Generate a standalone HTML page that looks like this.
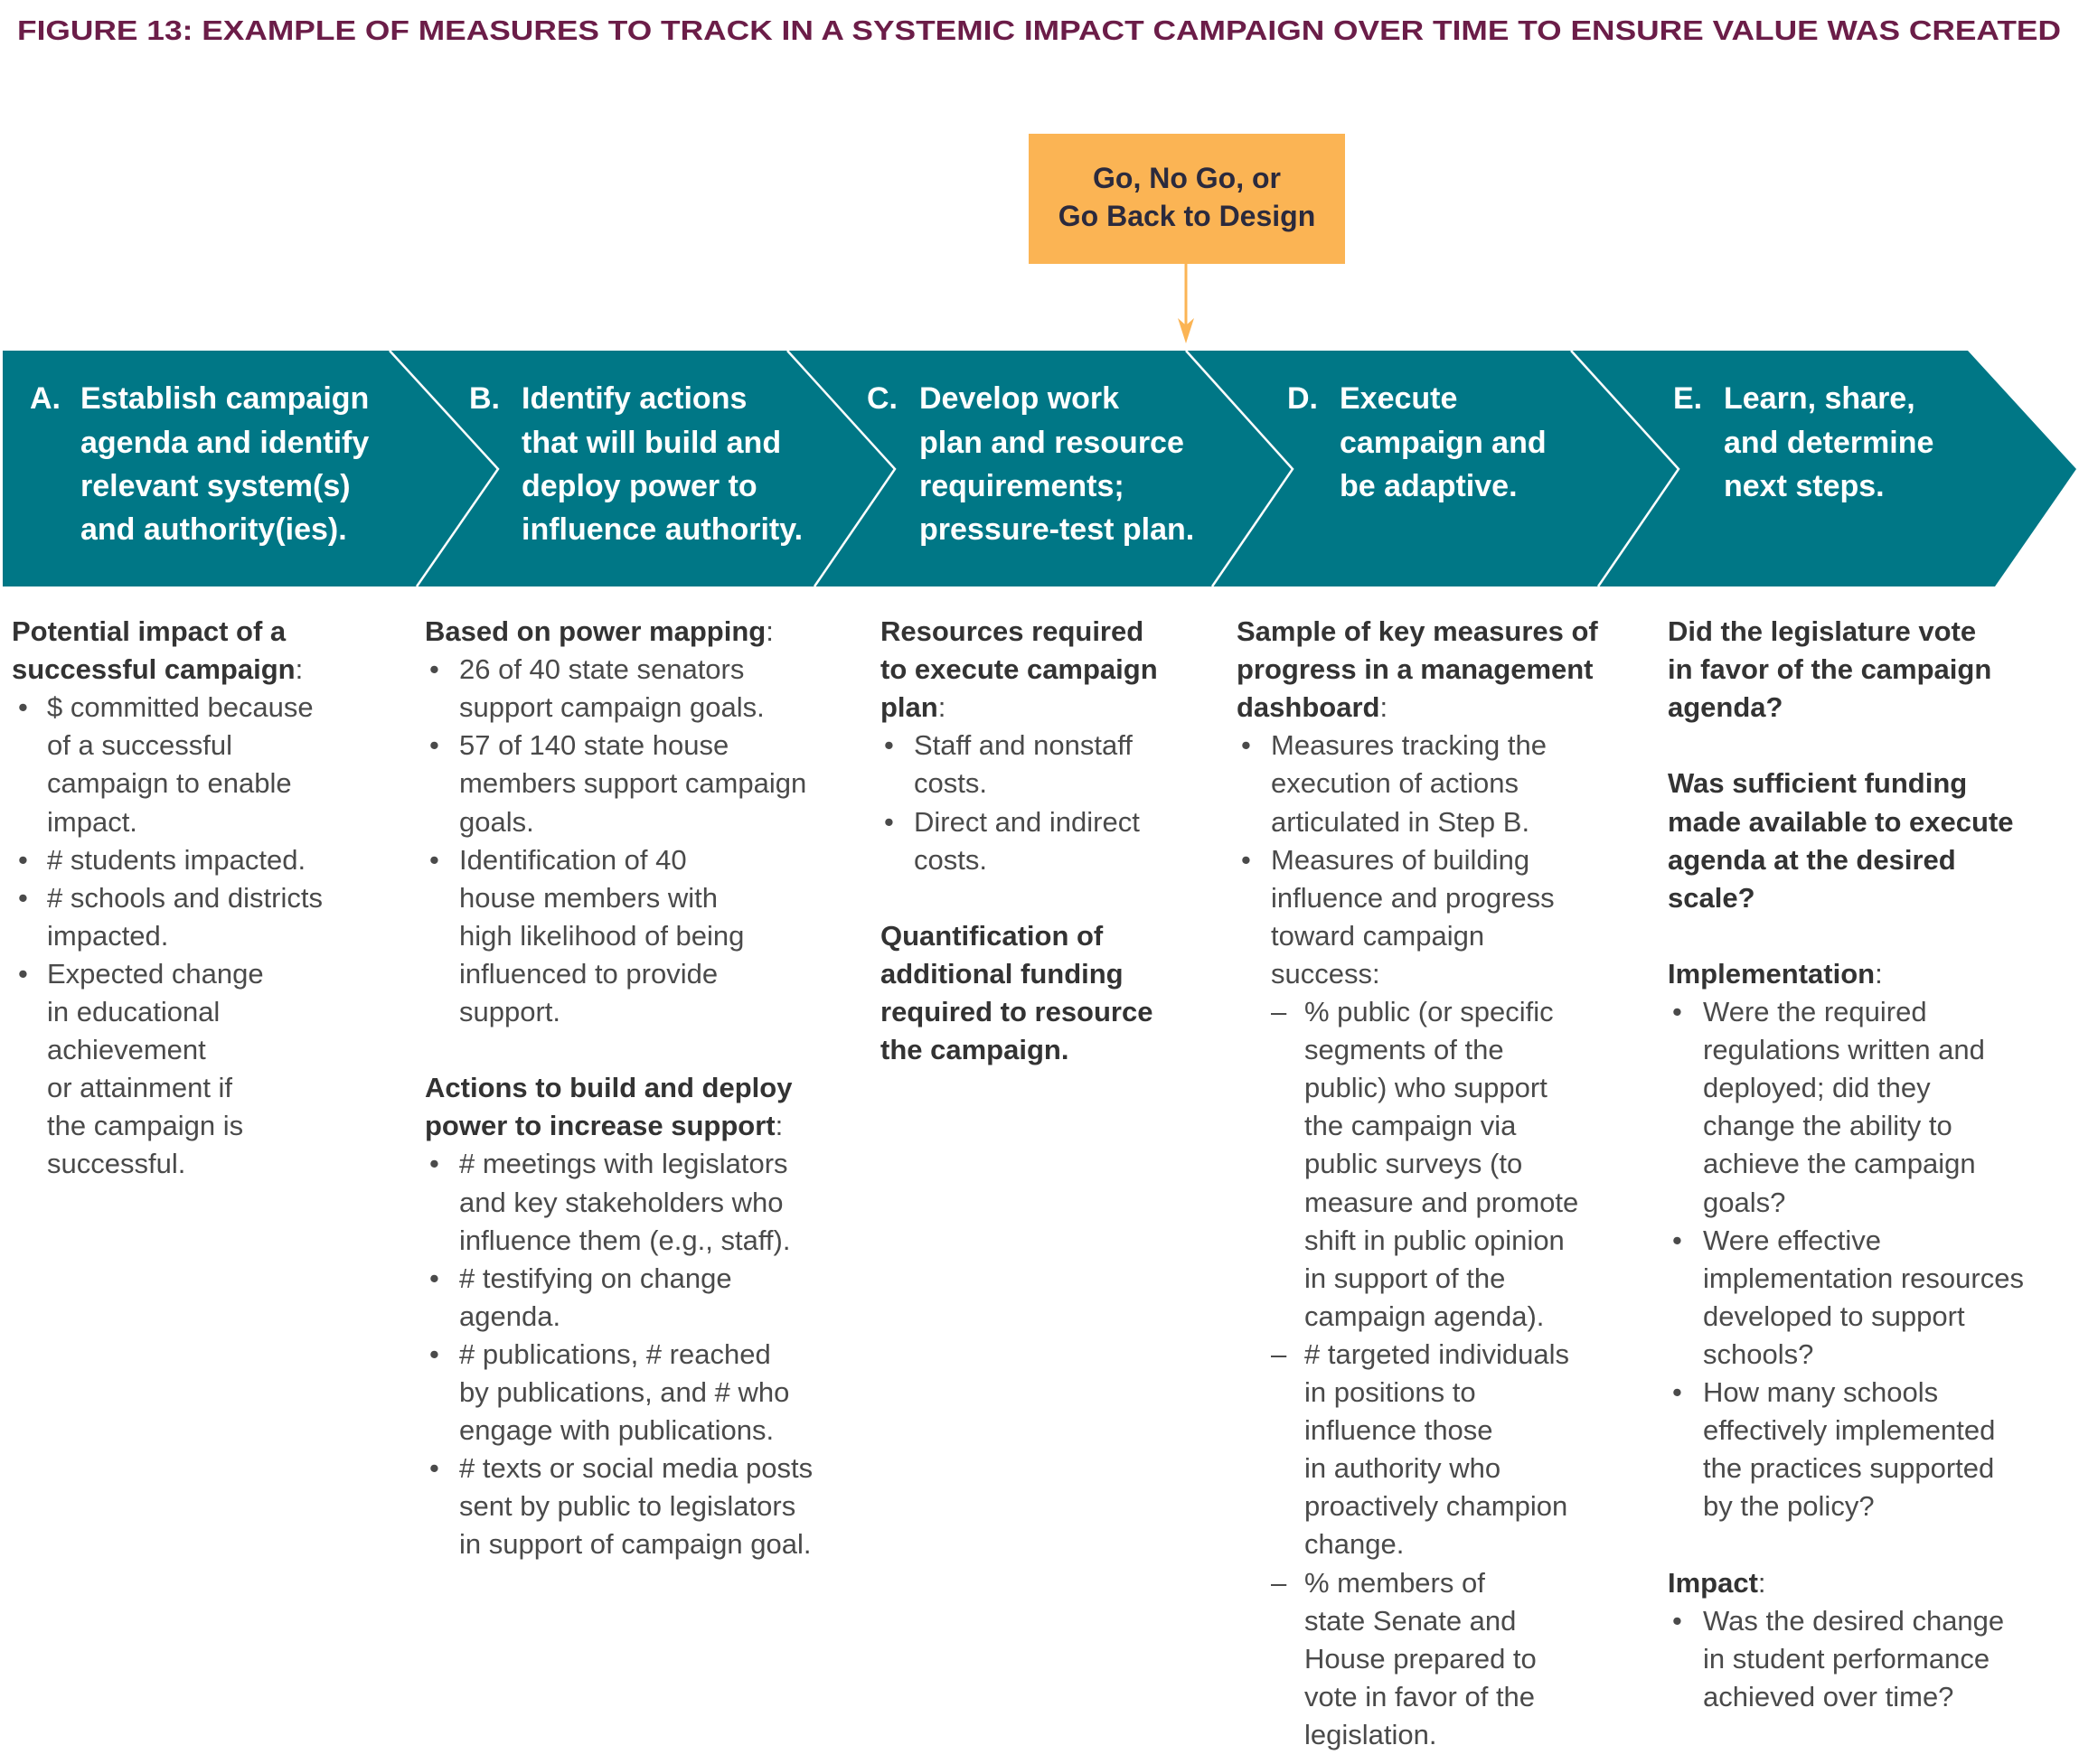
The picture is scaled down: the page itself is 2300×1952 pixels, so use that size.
<!DOCTYPE html>
<html><head><meta charset="utf-8"><style>
html,body{margin:0;padding:0;background:#fff}
svg{display:block}
.t{font-family:"Liberation Sans",sans-serif;font-size:31px;fill:#4a4a4a}
.b{font-weight:bold;fill:#333}
.h{font-family:"Liberation Sans",sans-serif;font-size:34px;font-weight:bold;fill:#fff}
</style></head><body>
<svg width="2300" height="1952" viewBox="0 0 2300 1952" xmlns="http://www.w3.org/2000/svg">
<text x="19" y="44" textLength="2261" lengthAdjust="spacingAndGlyphs" style="font-family:'Liberation Sans',sans-serif;font-size:31px;font-weight:bold;fill:#6b1d48">FIGURE 13: EXAMPLE OF MEASURES TO TRACK IN A SYSTEMIC IMPACT CAMPAIGN OVER TIME TO ENSURE VALUE WAS CREATED</text>
<rect x="1138" y="148" width="350" height="144" fill="#fbb454"/>
<text x="1313" y="208" text-anchor="middle" style="font-family:'Liberation Sans',sans-serif;font-size:32px;font-weight:bold;fill:#2b2a3d">Go, No Go, or</text>
<text x="1313" y="250" text-anchor="middle" style="font-family:'Liberation Sans',sans-serif;font-size:32px;font-weight:bold;fill:#2b2a3d">Go Back to Design</text>
<line x1="1312" y1="292" x2="1312" y2="372" stroke="#fbb454" stroke-width="3"/>
<polygon points="1303,352 1312,380 1321,352 1312,360" fill="#fbb454"/>
<polygon points="3,388 2177,388 2297,519 2207,649 3,649" fill="#007786"/>
<g stroke="#fff" stroke-width="2.5" fill="none">
<polyline points="431,388 551,519 461,649"/>
<polyline points="871,388 990,519 901,649"/>
<polyline points="1312,388 1430,519 1341,649"/>
<polyline points="1738,388 1857,519 1768,649"/>
</g>
<g class="h">
<text x="33" y="452">A.</text><text x="89" y="452">Establish campaign</text><text x="89" y="501">agenda and identify</text><text x="89" y="549">relevant system(s)</text><text x="89" y="597">and authority(ies).</text>
<text x="519" y="452">B.</text><text x="577" y="452">Identify actions</text><text x="577" y="501">that will build and</text><text x="577" y="549">deploy power to</text><text x="577" y="597">influence authority.</text>
<text x="959" y="452">C.</text><text x="1017" y="452">Develop work</text><text x="1017" y="501">plan and resource</text><text x="1017" y="549">requirements;</text><text x="1017" y="597">pressure-test plan.</text>
<text x="1424" y="452">D.</text><text x="1482" y="452">Execute</text><text x="1482" y="501">campaign and</text><text x="1482" y="549">be adaptive.</text>
<text x="1851" y="452">E.</text><text x="1907" y="452">Learn, share,</text><text x="1907" y="501">and determine</text><text x="1907" y="549">next steps.</text>
</g>
<g class="t">
<text class="b" x="13" y="709">Potential impact of a</text>
<text x="13" y="751"><tspan class="b">successful campaign</tspan>:</text>
<text x="20" y="793">•</text><text x="52" y="793">$ committed because</text>
<text x="52" y="835">of a successful</text>
<text x="52" y="877">campaign to enable</text>
<text x="52" y="920">impact.</text>
<text x="20" y="962">•</text><text x="52" y="962"># students impacted.</text>
<text x="20" y="1004">•</text><text x="52" y="1004"># schools and districts</text>
<text x="52" y="1046">impacted.</text>
<text x="20" y="1088">•</text><text x="52" y="1088">Expected change</text>
<text x="52" y="1130">in educational</text>
<text x="52" y="1172">achievement</text>
<text x="52" y="1214">or attainment if</text>
<text x="52" y="1256">the campaign is</text>
<text x="52" y="1298">successful.</text>

<text x="470" y="709"><tspan class="b">Based on power mapping</tspan>:</text>
<text x="475" y="751">•</text><text x="508" y="751">26 of 40 state senators</text>
<text x="508" y="793">support campaign goals.</text>
<text x="475" y="835">•</text><text x="508" y="835">57 of 140 state house</text>
<text x="508" y="877">members support campaign</text>
<text x="508" y="920">goals.</text>
<text x="475" y="962">•</text><text x="508" y="962">Identification of 40</text>
<text x="508" y="1004">house members with</text>
<text x="508" y="1046">high likelihood of being</text>
<text x="508" y="1088">influenced to provide</text>
<text x="508" y="1130">support.</text>
<text class="b" x="470" y="1214">Actions to build and deploy</text>
<text x="470" y="1256"><tspan class="b">power to increase support</tspan>:</text>
<text x="475" y="1298">•</text><text x="508" y="1298"># meetings with legislators</text>
<text x="508" y="1341">and key stakeholders who</text>
<text x="508" y="1383">influence them (e.g., staff).</text>
<text x="475" y="1425">•</text><text x="508" y="1425"># testifying on change</text>
<text x="508" y="1467">agenda.</text>
<text x="475" y="1509">•</text><text x="508" y="1509"># publications, # reached</text>
<text x="508" y="1551">by publications, and # who</text>
<text x="508" y="1593">engage with publications.</text>
<text x="475" y="1635">•</text><text x="508" y="1635"># texts or social media posts</text>
<text x="508" y="1677">sent by public to legislators</text>
<text x="508" y="1719">in support of campaign goal.</text>

<text class="b" x="974" y="709">Resources required</text>
<text class="b" x="974" y="751">to execute campaign</text>
<text x="974" y="793"><tspan class="b">plan</tspan>:</text>
<text x="978" y="835">•</text><text x="1011" y="835">Staff and nonstaff</text>
<text x="1011" y="877">costs.</text>
<text x="978" y="920">•</text><text x="1011" y="920">Direct and indirect</text>
<text x="1011" y="962">costs.</text>
<text class="b" x="974" y="1046">Quantification of</text>
<text class="b" x="974" y="1088">additional funding</text>
<text class="b" x="974" y="1130">required to resource</text>
<text class="b" x="974" y="1172">the campaign.</text>

<text class="b" x="1368" y="709">Sample of key measures of</text>
<text class="b" x="1368" y="751">progress in a management</text>
<text x="1368" y="793"><tspan class="b">dashboard</tspan>:</text>
<text x="1373" y="835">•</text><text x="1406" y="835">Measures tracking the</text>
<text x="1406" y="877">execution of actions</text>
<text x="1406" y="920">articulated in Step B.</text>
<text x="1373" y="962">•</text><text x="1406" y="962">Measures of building</text>
<text x="1406" y="1004">influence and progress</text>
<text x="1406" y="1046">toward campaign</text>
<text x="1406" y="1088">success:</text>
<text x="1406" y="1130">–</text><text x="1443" y="1130">% public (or specific</text>
<text x="1443" y="1172">segments of the</text>
<text x="1443" y="1214">public) who support</text>
<text x="1443" y="1256">the campaign via</text>
<text x="1443" y="1298">public surveys (to</text>
<text x="1443" y="1341">measure and promote</text>
<text x="1443" y="1383">shift in public opinion</text>
<text x="1443" y="1425">in support of the</text>
<text x="1443" y="1467">campaign agenda).</text>
<text x="1406" y="1509">–</text><text x="1443" y="1509"># targeted individuals</text>
<text x="1443" y="1551">in positions to</text>
<text x="1443" y="1593">influence those</text>
<text x="1443" y="1635">in authority who</text>
<text x="1443" y="1677">proactively champion</text>
<text x="1443" y="1719">change.</text>
<text x="1406" y="1762">–</text><text x="1443" y="1762">% members of</text>
<text x="1443" y="1804">state Senate and</text>
<text x="1443" y="1846">House prepared to</text>
<text x="1443" y="1888">vote in favor of the</text>
<text x="1443" y="1930">legislation.</text>

<text class="b" x="1845" y="709">Did the legislature vote</text>
<text class="b" x="1845" y="751">in favor of the campaign</text>
<text class="b" x="1845" y="793">agenda?</text>
<text class="b" x="1845" y="877">Was sufficient funding</text>
<text class="b" x="1845" y="920">made available to execute</text>
<text class="b" x="1845" y="962">agenda at the desired</text>
<text class="b" x="1845" y="1004">scale?</text>
<text x="1845" y="1088"><tspan class="b">Implementation</tspan>:</text>
<text x="1850" y="1130">•</text><text x="1884" y="1130">Were the required</text>
<text x="1884" y="1172">regulations written and</text>
<text x="1884" y="1214">deployed; did they</text>
<text x="1884" y="1256">change the ability to</text>
<text x="1884" y="1298">achieve the campaign</text>
<text x="1884" y="1341">goals?</text>
<text x="1850" y="1383">•</text><text x="1884" y="1383">Were effective</text>
<text x="1884" y="1425">implementation resources</text>
<text x="1884" y="1467">developed to support</text>
<text x="1884" y="1509">schools?</text>
<text x="1850" y="1551">•</text><text x="1884" y="1551">How many schools</text>
<text x="1884" y="1593">effectively implemented</text>
<text x="1884" y="1635">the practices supported</text>
<text x="1884" y="1677">by the policy?</text>
<text x="1845" y="1762"><tspan class="b">Impact</tspan>:</text>
<text x="1850" y="1804">•</text><text x="1884" y="1804">Was the desired change</text>
<text x="1884" y="1846">in student performance</text>
<text x="1884" y="1888">achieved over time?</text>
</g>
</svg>
</body></html>
